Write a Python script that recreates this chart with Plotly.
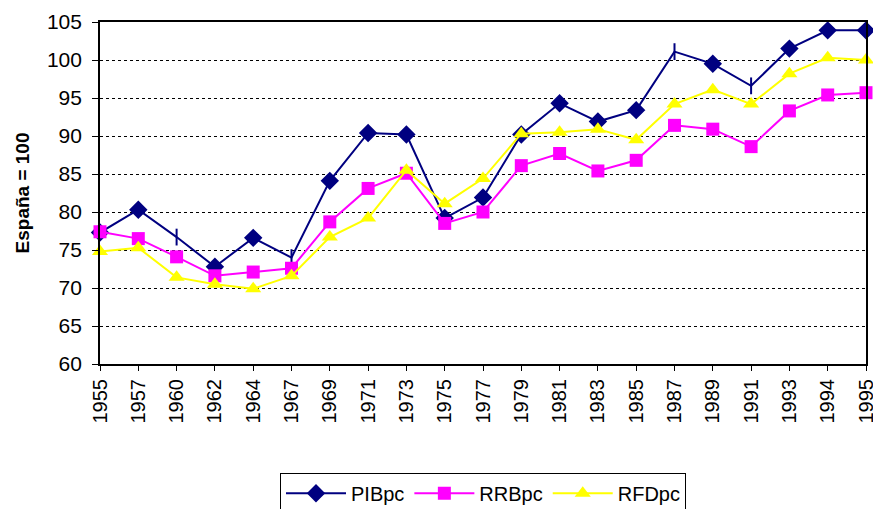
import plotly.graph_objects as go

# Años (eje categórico)
years = ["1955", "1957", "1960", "1962", "1964", "1967", "1969", "1971", "1973", "1975",
         "1977", "1979", "1981", "1983", "1985", "1987", "1989", "1991", "1993", "1994", "1995"]

# Índices, España = 100
pib_pc = [77.3, 80.3, 76.7, 72.8, 76.6, 74.0, 84.1, 90.4, 90.2, 79.2,
          81.9, 90.2, 94.3, 91.9, 93.4, 101.1, 99.5, 96.6, 101.5, 103.9, 103.9]
rrb_pc = [77.4, 76.5, 74.1, 71.6, 72.1, 72.6, 78.7, 83.1, 85.1, 78.5,
          80.0, 86.1, 87.7, 85.4, 86.8, 91.4, 90.9, 88.6, 93.3, 95.4, 95.7]
rfd_pc = [74.8, 75.3, 71.4, 70.5, 69.9, 71.6, 76.7, 79.2, 85.5, 81.1,
          84.4, 90.3, 90.5, 90.9, 89.5, 94.2, 96.1, 94.2, 98.2, 100.3, 100.0]

# En el original algunos puntos de PIBpc salen como rayita vertical
pib_symbols = ["line-ns" if y in ("1960", "1967", "1987", "1991") else "diamond" for y in years]

font_family = "Liberation Sans, Arial, sans-serif"

fig = go.Figure()

fig.add_trace(go.Scatter(
    x=years, y=pib_pc, name="PIBpc", mode="lines+markers",
    line=dict(color="#000080", width=2),
    marker=dict(symbol=pib_symbols, size=12, color="#000080",
                line=dict(color="#000080", width=2)),
    cliponaxis=False))
fig.add_trace(go.Scatter(
    x=years, y=rrb_pc, name="RRBpc", mode="lines+markers",
    line=dict(color="#FF00FF", width=2),
    marker=dict(symbol="square", size=13, color="#FF00FF"),
    cliponaxis=False))
fig.add_trace(go.Scatter(
    x=years, y=rfd_pc, name="RFDpc", mode="lines+markers",
    line=dict(color="#FFFF00", width=2),
    marker=dict(symbol="triangle-up", size=14, color="#FFFF00"),
    cliponaxis=False))

fig.update_xaxes(
    type="category", range=[0, len(years) - 1], automargin=False,
    tickangle=-90, ticks="outside", ticklen=5, tickcolor="black",
    tickfont=dict(family=font_family, size=20, color="black"),
    showline=True, linecolor="black", linewidth=2, mirror=True,
    showgrid=False, zeroline=False)
fig.update_yaxes(
    range=[60, 105], dtick=5, ticks="outside", ticklen=6, tickcolor="black", automargin=False,
    tickfont=dict(family=font_family, size=21, color="black"), ticksuffix=" ",
    title=dict(text="<b>España = 100</b>", font=dict(family=font_family, size=19, color="black"),
               standoff=12),
    showline=True, linecolor="black", linewidth=2, mirror=True,
    showgrid=True, gridcolor="black", griddash="dot", gridwidth=1, zeroline=False)

# la página html deja 8px de margen en el body, así que se compensa aquí
fig.update_layout(
    width=865, height=501,
    margin=dict(l=92, r=7, t=14, b=145, autoexpand=False),
    paper_bgcolor="white", plot_bgcolor="white",
    font=dict(family=font_family, color="black"),
    showlegend=True,
    legend=dict(orientation="h", x=0.5, xanchor="center", y=-0.318, yanchor="top",
                bordercolor="black", borderwidth=1, itemwidth=60,
                font=dict(family=font_family, size=20, color="black")),
)

fig.write_html("out.html")
